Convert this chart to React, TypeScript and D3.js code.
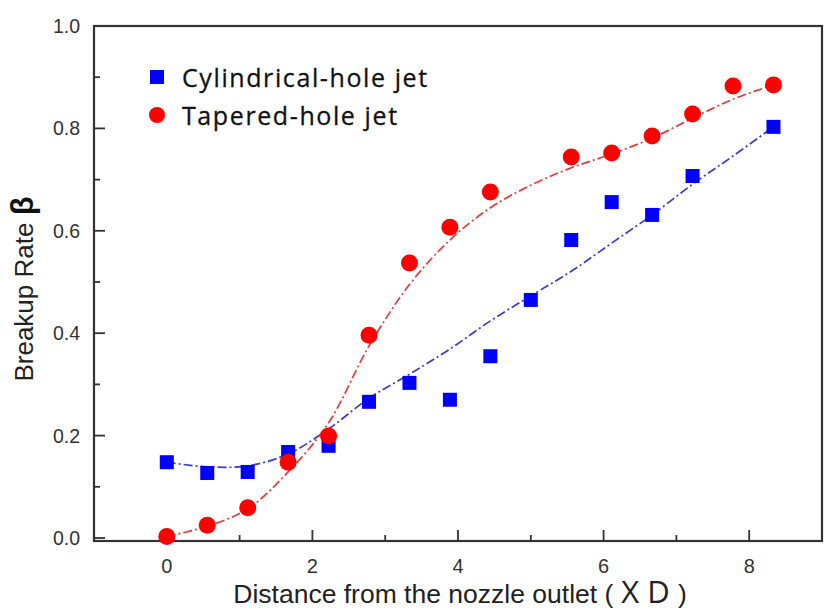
import React from "react";
import * as d3 from "d3";

const xStep = 5 / 9;
const cylIndex = [0, 1, 2, 3, 4, 5, 6, 7, 8, 9, 10, 11, 12, 13, 15];
const cylValues = [0.148, 0.127, 0.129, 0.168, 0.18, 0.266, 0.303, 0.27, 0.355, 0.465, 0.582, 0.656, 0.631, 0.707, 0.803];
const tapIndex = [0, 1, 2, 3, 4, 5, 6, 7, 8, 10, 11, 12, 13, 14, 15];
const tapValues = [0.003, 0.025, 0.059, 0.148, 0.199, 0.396, 0.537, 0.607, 0.676, 0.744, 0.752, 0.785, 0.828, 0.883, 0.885];

const fitIndex = [0, 1, 2, 3, 4, 5, 6, 7, 8, 9, 10, 11, 12, 13, 14, 15];
const cylFit = [0.148, 0.139, 0.141, 0.164, 0.213, 0.273, 0.32, 0.369, 0.424, 0.473, 0.521, 0.576, 0.631, 0.691, 0.746, 0.803];
const tapFit = [0.003, 0.023, 0.057, 0.129, 0.225, 0.375, 0.495, 0.582, 0.645, 0.689, 0.723, 0.75, 0.781, 0.82, 0.857, 0.885];

const xMajor = [0, 2, 4, 6, 8];
const xMinor = [1, 3, 5, 7];
const yMajor = [0, 0.2, 0.4, 0.6, 0.8, 1.0];
const yMinor = [0.1, 0.3, 0.5, 0.7, 0.9];

export default function App() {
  const W = 832, H = 616;
  const x = d3.scaleLinear().domain([-1, 9]).range([94, 822]);
  const y = d3.scaleLinear().domain([0, 1]).range([538, 26]);
  const frameBottom = 541;
  const axisColor = "#333";
  const line = d3
    .line<[number, number]>()
    .x((d) => x(d[0]))
    .y((d) => y(d[1]))
    .curve(d3.curveCatmullRom.alpha(0.5));
  const cylFitPts: [number, number][] = fitIndex.map((i, k) => [i * xStep, cylFit[k]]);
  const tapFitPts: [number, number][] = fitIndex.map((i, k) => [i * xStep, tapFit[k]]);
  const dash = "9,3,2,3";
  const sq = 14;
  const tickFont = "Liberation Sans, Arial, sans-serif";
  return (
    <svg width={W} height={H} style={{ position: "absolute", left: 0, top: 0, background: "#fff" }}>
      <rect x={0} y={0} width={W} height={H} fill="#fff" />
      {/* frame */}
      <rect x={x(-1)} y={y(1)} width={x(9) - x(-1)} height={frameBottom - y(1)} fill="none" stroke={axisColor} strokeWidth={2.2} />
      {/* x ticks */}
      {xMajor.map((t) => (
        <g key={"xm" + t}>
          <line x1={x(t)} x2={x(t)} y1={frameBottom} y2={frameBottom - 11} stroke={axisColor} strokeWidth={1.8} />
          <text x={x(t)} y={573} textAnchor="middle" fontFamily={tickFont} fontSize={20} fill="#333">
            {t}
          </text>
        </g>
      ))}
      {xMinor.map((t) => (
        <line key={"xn" + t} x1={x(t)} x2={x(t)} y1={frameBottom} y2={frameBottom - 6} stroke={axisColor} strokeWidth={1.8} />
      ))}
      {/* y ticks */}
      {yMajor.map((t) => (
        <g key={"ym" + t}>
          <line x1={x(-1)} x2={x(-1) + 11} y1={y(t)} y2={y(t)} stroke={axisColor} strokeWidth={1.8} />
          <text x={80} y={y(t) + 7} textAnchor="end" fontFamily={tickFont} fontSize={19.5} fill="#333">
            {t.toFixed(1)}
          </text>
        </g>
      ))}
      {yMinor.map((t) => (
        <line key={"yn" + t} x1={x(-1)} x2={x(-1) + 6} y1={y(t)} y2={y(t)} stroke={axisColor} strokeWidth={1.8} />
      ))}
      {/* fit lines */}
      <path d={line(cylFitPts) || ""} fill="none" stroke="#3a3ad0" strokeWidth={1.7} strokeDasharray={dash} />
      <path d={line(tapFitPts) || ""} fill="none" stroke="#e83a3a" strokeWidth={1.7} strokeDasharray={dash} />
      {/* markers */}
      {cylIndex.map((i, k) => (
        <rect key={"c" + k} x={x(i * xStep) - sq / 2} y={y(cylValues[k]) - sq / 2} width={sq} height={sq} fill="#0000ff" />
      ))}
      {tapIndex.map((i, k) => (
        <circle key={"t" + k} cx={x(i * xStep)} cy={y(tapValues[k])} r={8.5} fill="#ff0000" />
      ))}
      {/* legend */}
      <rect x={150} y={70} width={14} height={14} fill="#0000ff" />
      <circle cx={157} cy={115} r={8} fill="#ff0000" />
      <text x={182} y={87} fontFamily="Open Sans, sans-serif" fontSize={25} letterSpacing={1.6} fill="#111" stroke="#111" strokeWidth={0.3}>
        Cylindrical-hole jet
      </text>
      <text x={182} y={125} fontFamily="Open Sans, sans-serif" fontSize={25} letterSpacing={1.6} fill="#111" stroke="#111" strokeWidth={0.3}>
        Tapered-hole jet
      </text>
      {/* axis titles */}
      <text x={460} y={603} textAnchor="middle" fontFamily={tickFont} fontSize={26.5} fill="#222">
        Distance from the nozzle outlet (
        <tspan fontFamily="Open Sans, sans-serif" fontSize={31}> X D </tspan>)
      </text>
      <text
        transform={`translate(33, 289) rotate(-90)`}
        textAnchor="middle"
        fontFamily={tickFont}
        fontSize={26}
        fill="#222"
      >
        Breakup Rate <tspan fontWeight="bold" fontSize={31} fill="#111">β</tspan>
      </text>
    </svg>
  );
}
